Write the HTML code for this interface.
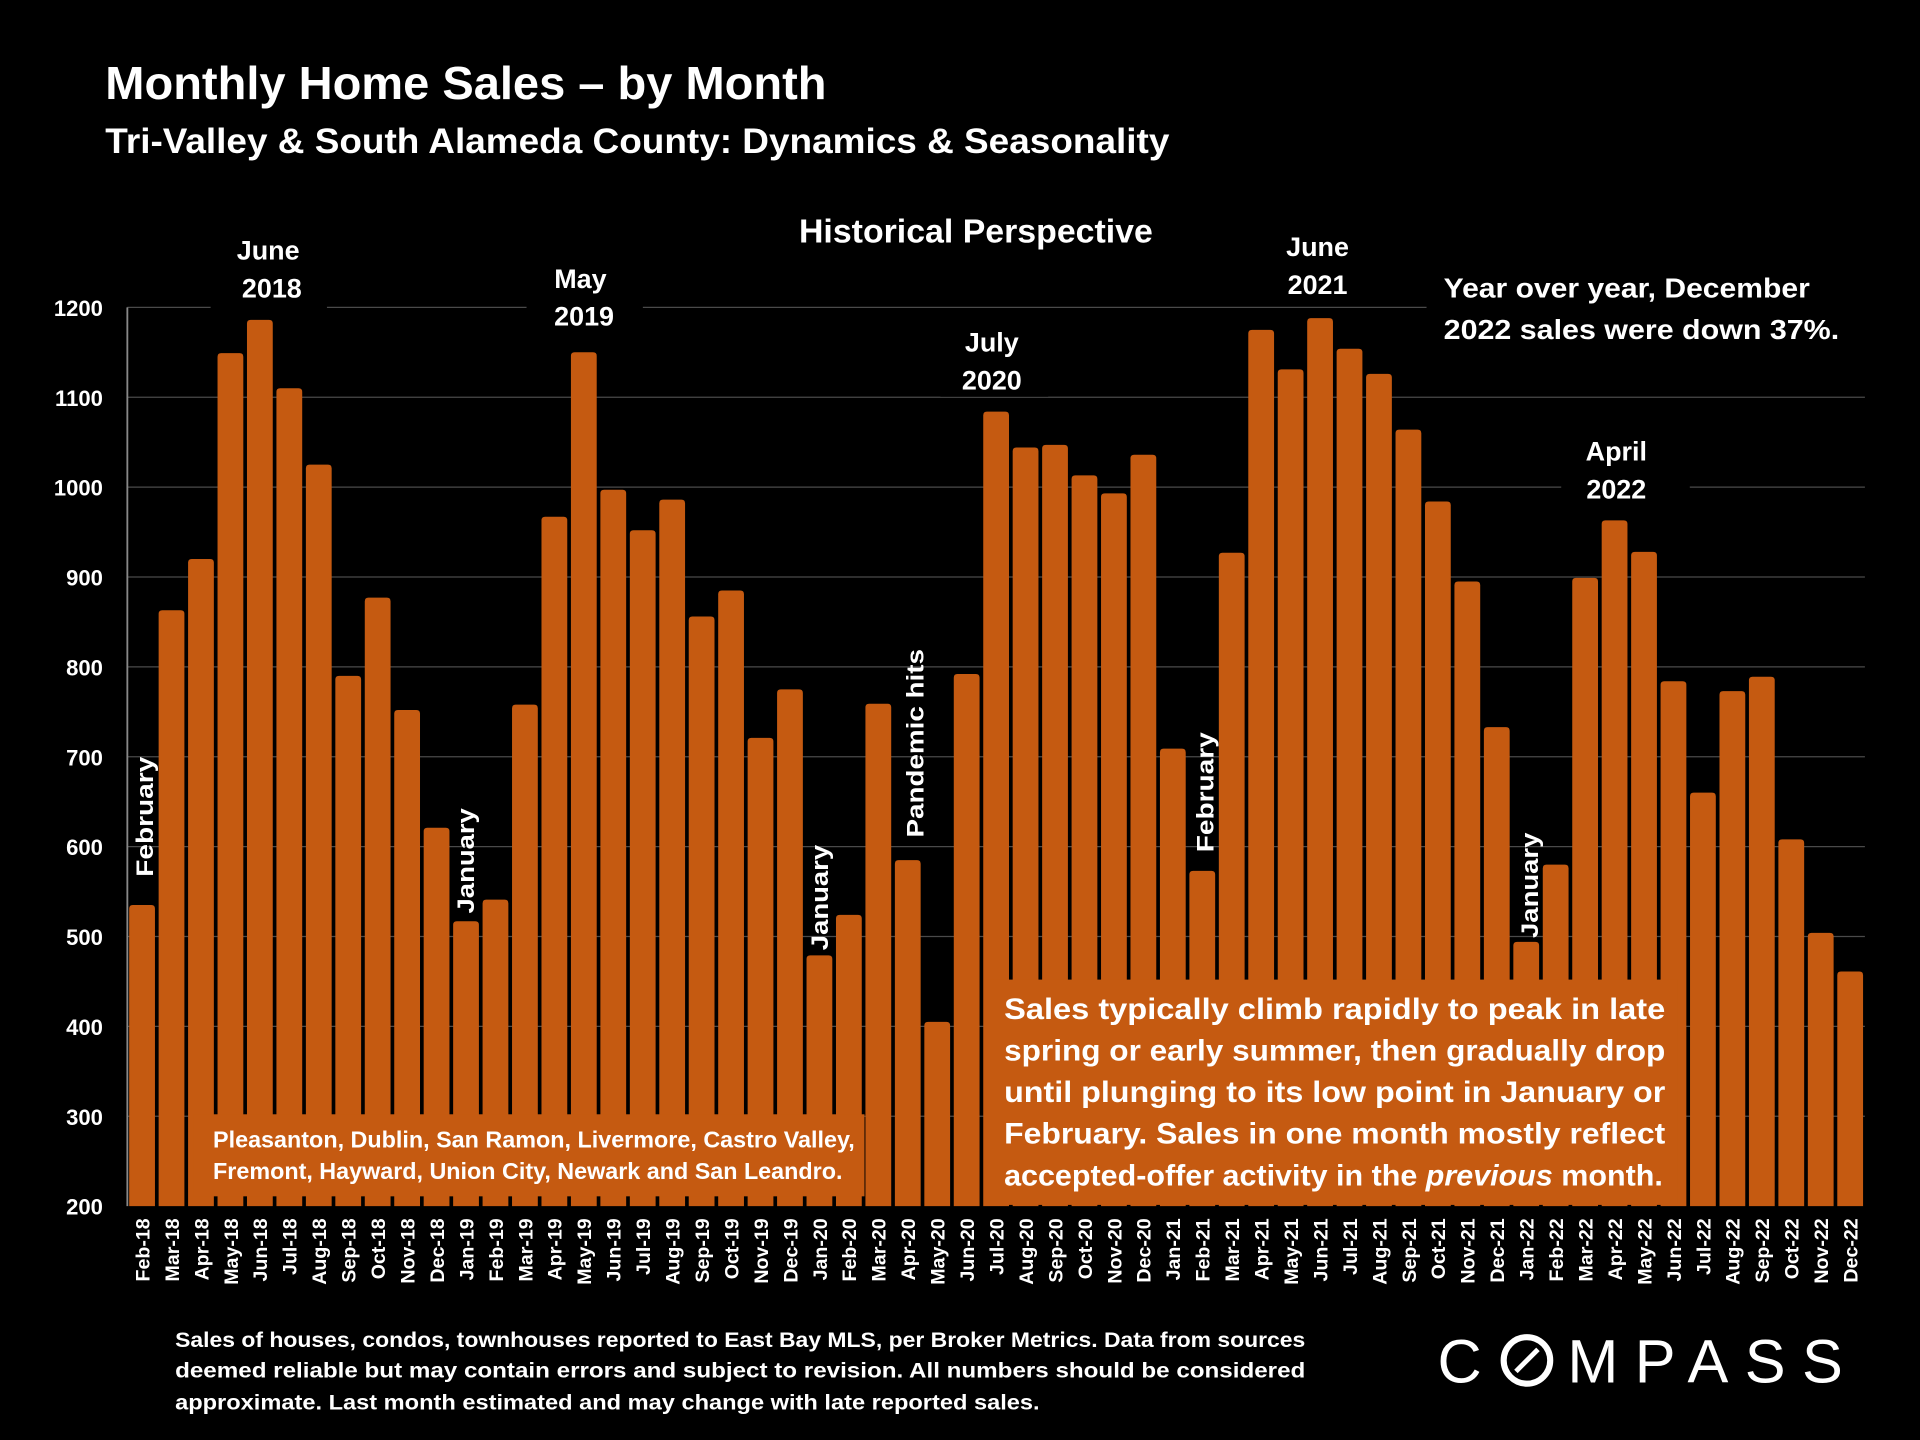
<!DOCTYPE html>
<html><head><meta charset="utf-8">
<style>
html,body{margin:0;padding:0;background:#000;}
svg{display:block;}
text{font-family:"Liberation Sans",sans-serif;font-weight:bold;fill:#fff;}
</style></head>
<body>
<svg id="chart" width="1920" height="1440" viewBox="0 0 1568 1176" xmlns="http://www.w3.org/2000/svg">
<rect x="0" y="0" width="1568" height="1176" fill="#000"/>
<text x="86" y="81" font-size="38" textLength="589" lengthAdjust="spacingAndGlyphs">Monthly Home Sales – by Month</text>
<text x="86" y="125" font-size="29" textLength="869" lengthAdjust="spacingAndGlyphs">Tri-Valley &amp; South Alameda County: Dynamics &amp; Seasonality</text>
<g id="grid"></g>
<g id="yticks"></g>
<g id="bars"></g>
<g id="xlabels"></g>
<line x1="104" y1="251" x2="104" y2="985" stroke="#888" stroke-width="1.5"/>
<g>
<rect x="640" y="168" width="315" height="40" fill="#000"/>
<text x="797" y="198" font-size="27" text-anchor="middle" textLength="289" lengthAdjust="spacingAndGlyphs">Historical Perspective</text>
<rect x="172" y="186" width="95" height="66" fill="#000"/>
<text x="219" y="212" font-size="22" text-anchor="middle">June</text>
<text x="222" y="243" font-size="22" text-anchor="middle">2018</text>
<rect x="430" y="210" width="95" height="66" fill="#000"/>
<text x="474" y="235" font-size="22" text-anchor="middle">May</text>
<text x="477" y="266" font-size="22" text-anchor="middle">2019</text>
<rect x="768" y="262" width="88" height="62" fill="#000"/>
<text x="810" y="287" font-size="22" text-anchor="middle">July</text>
<text x="810" y="318" font-size="22" text-anchor="middle">2020</text>
<rect x="1030" y="184" width="100" height="66" fill="#000"/>
<text x="1076" y="209" font-size="22" text-anchor="middle">June</text>
<text x="1076" y="240" font-size="22" text-anchor="middle">2021</text>
<rect x="1165" y="216" width="360" height="74" fill="#000"/>
<text x="1179" y="243" font-size="23" textLength="299" lengthAdjust="spacingAndGlyphs">Year over year, December</text>
<text x="1179" y="277" font-size="23" textLength="323" lengthAdjust="spacingAndGlyphs">2022 sales were down 37%.</text>
<rect x="1275" y="350" width="105" height="66" fill="#000"/>
<text x="1320" y="376" font-size="22" text-anchor="middle">April</text>
<text x="1320" y="407" font-size="22" text-anchor="middle">2022</text>
<text transform="translate(125,716) rotate(-90)" font-size="20" textLength="98" lengthAdjust="spacingAndGlyphs">February</text>
<text transform="translate(387,746) rotate(-90)" font-size="20" textLength="86" lengthAdjust="spacingAndGlyphs">January</text>
<text transform="translate(676,776) rotate(-90)" font-size="20" textLength="86" lengthAdjust="spacingAndGlyphs">January</text>
<text transform="translate(754,684) rotate(-90)" font-size="20" textLength="154" lengthAdjust="spacingAndGlyphs">Pandemic hits</text>
<text transform="translate(991,696) rotate(-90)" font-size="20" textLength="98" lengthAdjust="spacingAndGlyphs">February</text>
<text transform="translate(1256,766) rotate(-90)" font-size="20" textLength="86" lengthAdjust="spacingAndGlyphs">January</text>
<rect x="158" y="910" width="548" height="67" fill="#C55A11"/>
<text x="174" y="937" font-size="18.5" textLength="524" lengthAdjust="spacingAndGlyphs">Pleasanton, Dublin, San Ramon, Livermore, Castro Valley,</text>
<text x="174" y="963" font-size="18.5" textLength="514" lengthAdjust="spacingAndGlyphs">Fremont, Hayward, Union City, Newark and San Leandro.</text>
<rect x="805" y="800" width="565" height="184" fill="#C55A11"/>
<g font-size="24">
<text x="820" y="832" textLength="540" lengthAdjust="spacingAndGlyphs">Sales typically climb rapidly to peak in late</text>
<text x="820" y="866" textLength="540" lengthAdjust="spacingAndGlyphs">spring or early summer, then gradually drop</text>
<text x="820" y="900" textLength="540" lengthAdjust="spacingAndGlyphs">until plunging to its low point in January or</text>
<text x="820" y="934" textLength="540" lengthAdjust="spacingAndGlyphs">February. Sales in one month mostly reflect</text>
<text x="820" y="968" textLength="538" lengthAdjust="spacingAndGlyphs">accepted-offer activity in the <tspan font-style="italic">previous</tspan> month.</text>
</g>
</g>
<g font-size="17">
<text x="143" y="1100" textLength="923" lengthAdjust="spacingAndGlyphs">Sales of houses, condos, townhouses reported to East Bay MLS, per Broker Metrics. Data from sources</text>
<text x="143" y="1125" textLength="923" lengthAdjust="spacingAndGlyphs">deemed reliable but may contain errors and subject to revision. All numbers should be considered</text>
<text x="143" y="1151" textLength="706" lengthAdjust="spacingAndGlyphs">approximate.  Last month estimated and may change with late reported sales.</text>
</g>
<g>
<text x="1174" y="1129" font-size="50" style="font-weight:normal">C</text>
<circle cx="1247" cy="1111" r="19" fill="none" stroke="#fff" stroke-width="5"/>
<line x1="1238" y1="1120" x2="1256" y2="1102" stroke="#fff" stroke-width="4"/>
<text x="1280" y="1129" font-size="50" textLength="225" lengthAdjust="spacing" style="font-weight:normal">MPASS</text>
</g>
</svg>
<script>
const categories=["Feb-18","Mar-18","Apr-18","May-18","Jun-18","Jul-18","Aug-18","Sep-18","Oct-18","Nov-18","Dec-18","Jan-19","Feb-19","Mar-19","Apr-19","May-19","Jun-19","Jul-19","Aug-19","Sep-19","Oct-19","Nov-19","Dec-19","Jan-20","Feb-20","Mar-20","Apr-20","May-20","Jun-20","Jul-20","Aug-20","Sep-20","Oct-20","Nov-20","Dec-20","Jan-21","Feb-21","Mar-21","Apr-21","May-21","Jun-21","Jul-21","Aug-21","Sep-21","Oct-21","Nov-21","Dec-21","Jan-22","Feb-22","Mar-22","Apr-22","May-22","Jun-22","Jul-22","Aug-22","Sep-22","Oct-22","Nov-22","Dec-22"];
const sales=[535,863,920,1149,1186,1110,1025,790,877,752,621,517,541,758,967,1150,997,952,986,856,885,721,775,479,524,759,585,405,792,1084,1044,1047,1013,993,1036,709,573,927,1175,1131,1188,1154,1126,1064,984,895,733,494,580,899,963,928,784,660,773,789,608,504,461];
const yTicks=[200,300,400,500,600,700,800,900,1000,1100,1200];
const NS="http://www.w3.org/2000/svg";
const X0=104,X1=1523,Y0=985,Y1=251,VMIN=200,VMAX=1200;
function yScale(v){return Y0-(v-VMIN)/(VMAX-VMIN)*(Y0-Y1);}
const band=(X1-X0)/categories.length;
function xScale(i){return X0+i*band;}
const grid=document.getElementById('grid'),yt=document.getElementById('yticks'),bars=document.getElementById('bars'),xl=document.getElementById('xlabels');
yTicks.forEach(t=>{
  const y=yScale(t);
  if(t>VMIN){const l=document.createElementNS(NS,'line');
  l.setAttribute('x1',X0);l.setAttribute('x2',X1);l.setAttribute('y1',y);l.setAttribute('y2',y);
  l.setAttribute('stroke','#4a4a4a');l.setAttribute('stroke-width','1');
  
  
  grid.appendChild(l);}
  const tx=document.createElementNS(NS,'text');
  tx.setAttribute('x',84);tx.setAttribute('y',y+7);tx.setAttribute('text-anchor','end');tx.setAttribute('font-size','18');
  tx.textContent=t;
  
  
  yt.appendChild(tx);
});
sales.forEach((v,i)=>{
  const x=xScale(i)+1.5,w=band-3,y=yScale(v);
  const r=document.createElementNS(NS,'path');
  const rr=3;
  r.setAttribute('d',`M${x},${Y0} L${x},${y+rr} Q${x},${y} ${x+rr},${y} L${x+w-rr},${y} Q${x+w},${y} ${x+w},${y+rr} L${x+w},${Y0} Z`);
  r.setAttribute('fill','#C55A11');
  
  
  bars.appendChild(r);
  const t=document.createElementNS(NS,'text');
  const cx=xScale(i)+band/2+6;
  t.setAttribute('transform',`translate(${cx},995) rotate(-90)`);
  t.setAttribute('text-anchor','end');t.setAttribute('font-size','16');
  t.textContent=categories[i];
  
  
  xl.appendChild(t);
});
</script>
</body></html>
